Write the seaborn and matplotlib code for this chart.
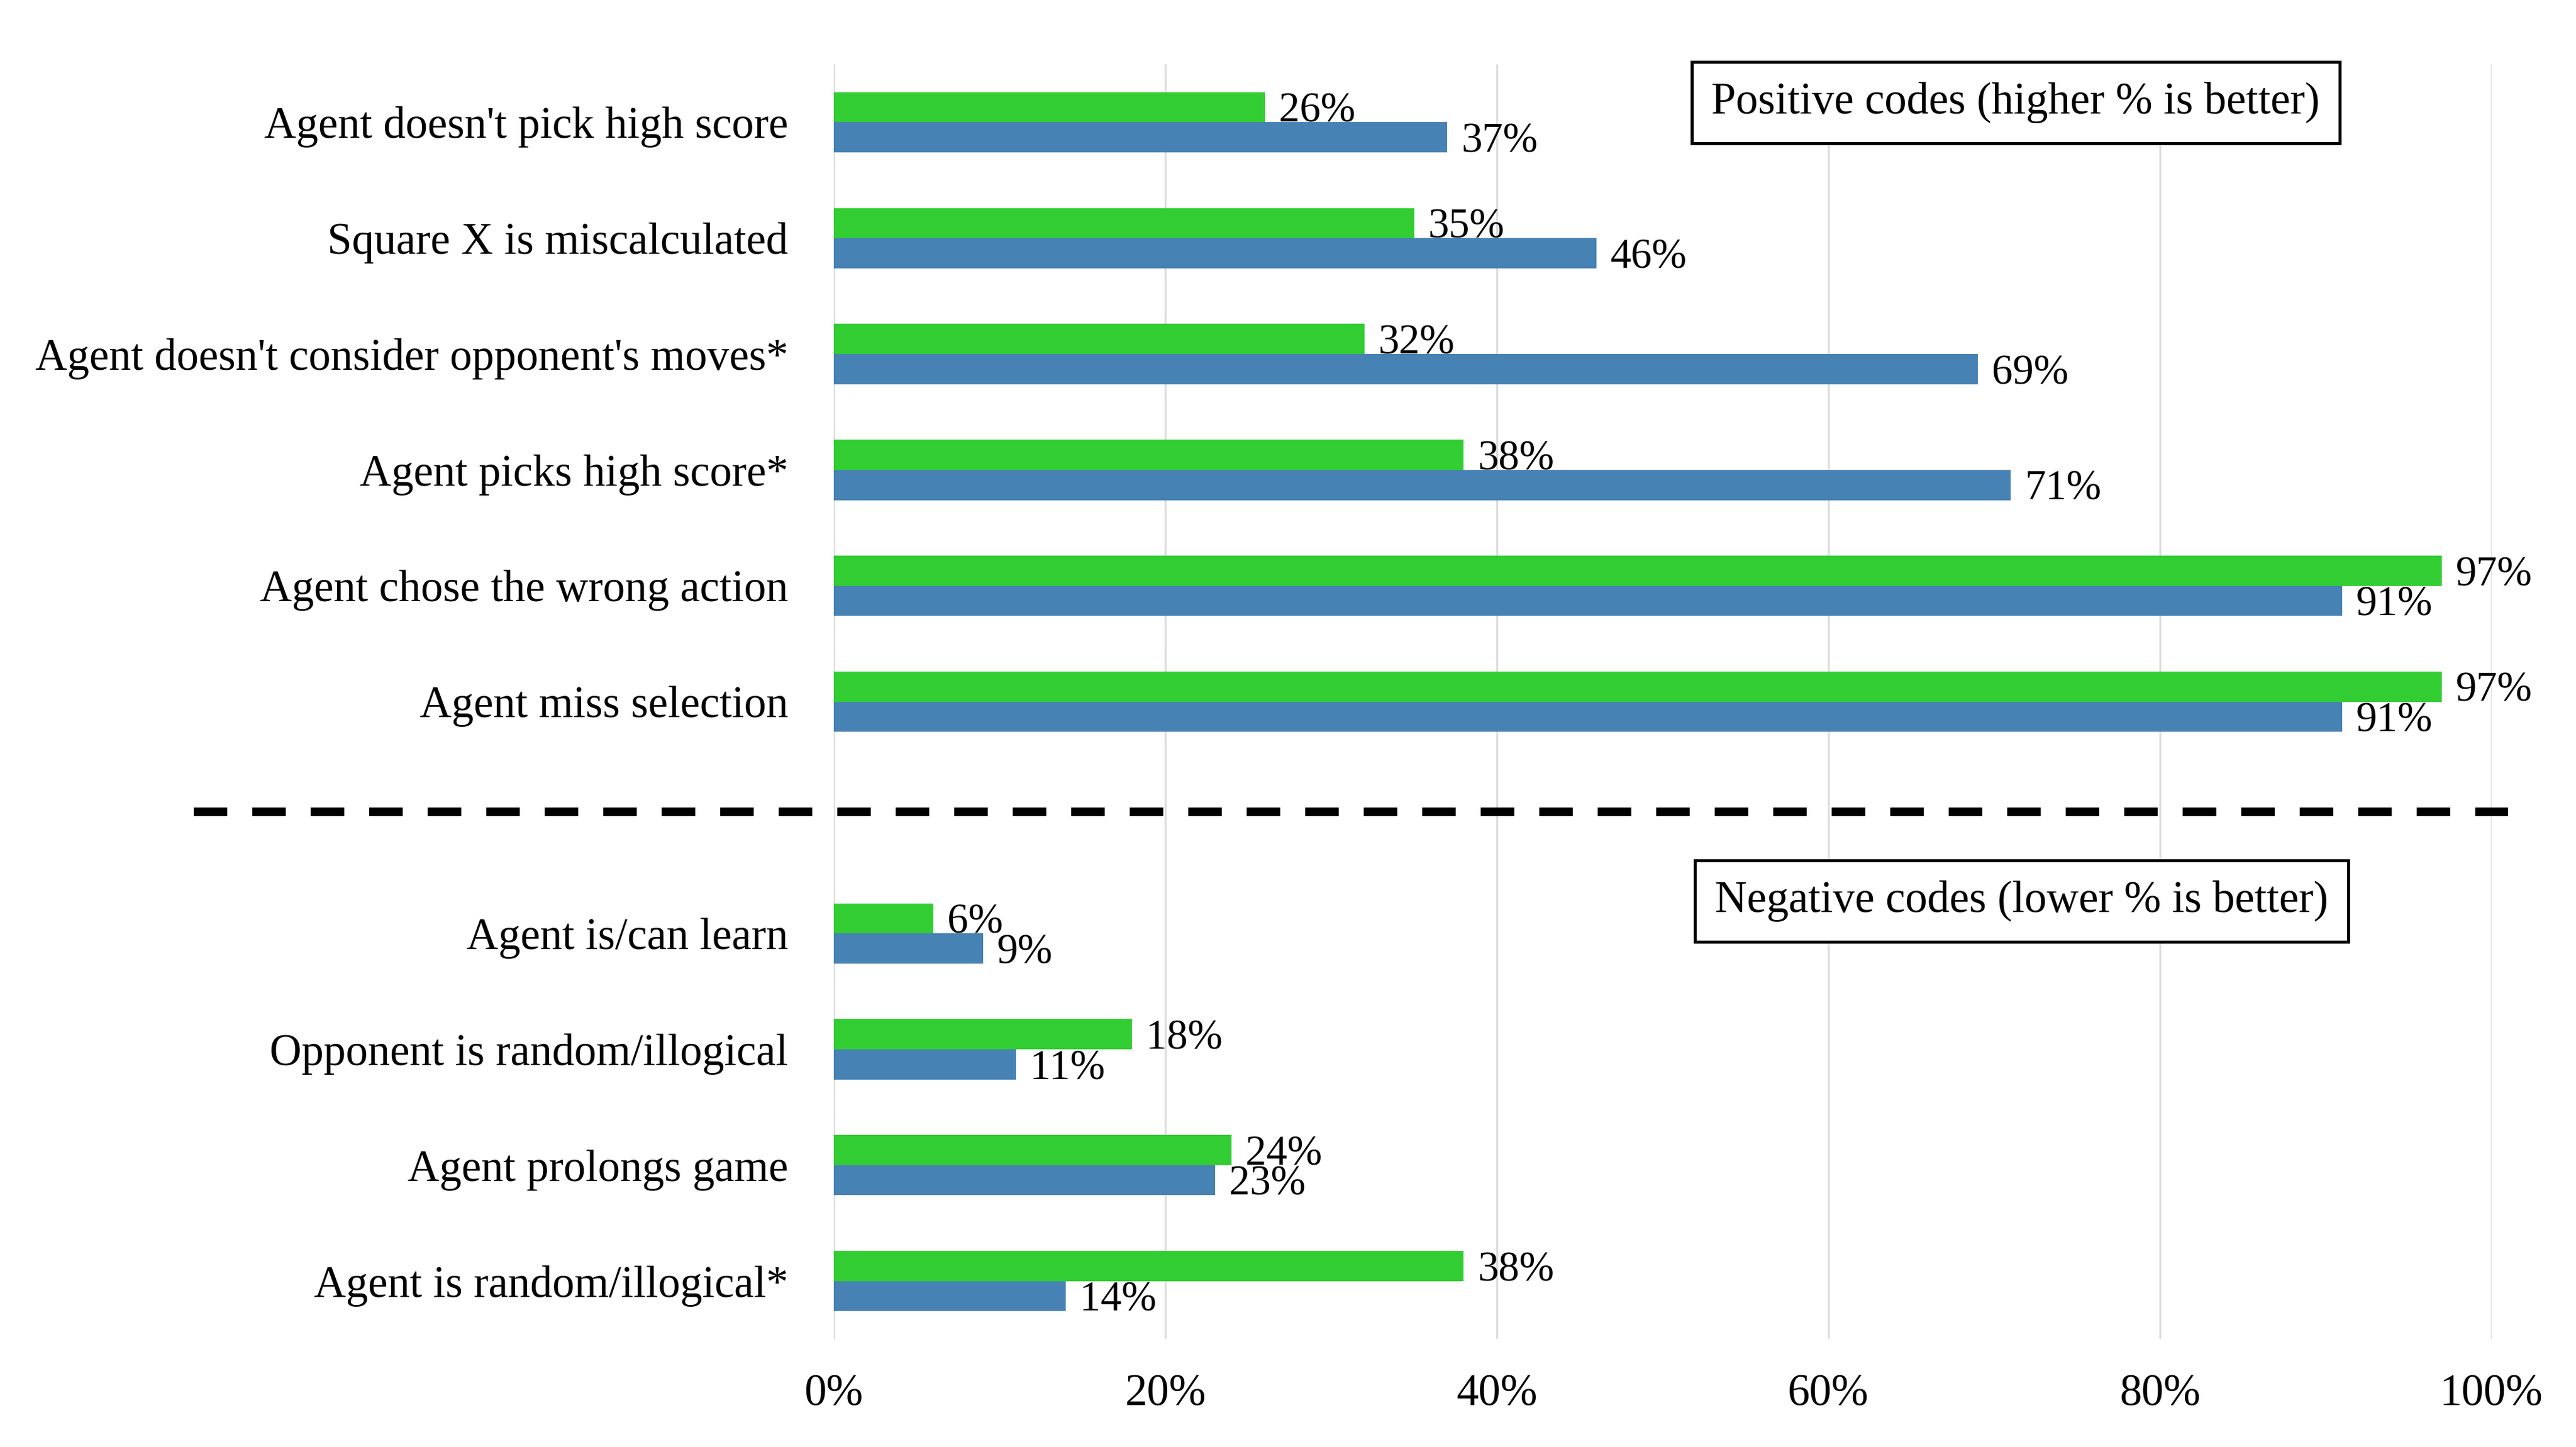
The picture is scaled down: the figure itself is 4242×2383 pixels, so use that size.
import pandas as pd
import seaborn as sns
import matplotlib.pyplot as plt

# Codes shown on the y axis, top to bottom (" " is the empty slot for the divider)
positive_codes = [
    "Agent doesn't pick high score",
    "Square X is miscalculated",
    "Agent doesn't consider opponent's moves*",
    "Agent picks high score*",
    "Agent chose the wrong action",
    "Agent miss selection",
]
negative_codes = [
    "Agent is/can learn",
    "Opponent is random/illogical",
    "Agent prolongs game",
    "Agent is random/illogical*",
]
gap_label = " "

# Share of participants per code (fractions)
green_pct = [0.26, 0.35, 0.32, 0.38, 0.97, 0.97, 0.06, 0.18, 0.24, 0.38]
blue_pct = [0.37, 0.46, 0.69, 0.71, 0.91, 0.91, 0.09, 0.11, 0.23, 0.14]

series_names = ["Group A", "Group B"]
x_ticks = [0, 0.2, 0.4, 0.6, 0.8, 1.0]
x_tick_labels = ["0%", "20%", "40%", "60%", "80%", "100%"]

codes = positive_codes + negative_codes
order = positive_codes + [gap_label] + negative_codes

df = pd.DataFrame({
    "code": codes * 2,
    "pct": green_pct + blue_pct,
    "group": [series_names[0]] * len(codes) + [series_names[1]] * len(codes),
})

sns.set_style("white")
plt.rcParams["font.family"] = ["Liberation Serif", "DejaVu Serif"]
plt.rcParams["text.color"] = "black"
plt.rcParams["xtick.color"] = "black"
plt.rcParams["ytick.color"] = "black"

fig = plt.figure(figsize=(4242 / 300, 2383 / 300), dpi=300)
ax = fig.add_axes([0.3237, 0.0747, 0.6435, 0.8808])

sns.barplot(
    data=df, y="code", x="pct", hue="group", order=order,
    hue_order=series_names, palette=["#32CD32", "#4682B4"],
    orient="h", width=0.52, errorbar=None, saturation=1,
    legend=False, linewidth=0, ax=ax,
)

# value labels next to every bar
for cont in ax.containers:
    labels = ax.bar_label(cont, fmt=lambda v: f"{v:.0%}", padding=5.5,
                          fontsize=16.5)
    for t in labels:
        t.set_va("center_baseline")

ax.set_xlim(0, 1.0)
ax.set_ylim(10.5, -0.5)
ax.set_xticks(x_ticks)
ax.set_xticklabels(x_tick_labels)
ax.set_xlabel("")
ax.set_ylabel("")
ax.tick_params(axis="x", length=0, pad=14, labelsize=17.5)
ax.tick_params(axis="y", length=0, pad=18, labelsize=17.5)
ax.xaxis.grid(True, color="#dcdcdc", linewidth=0.8)
ax.set_axisbelow(True)
for s in ax.spines.values():
    s.set_visible(False)

# divider between positive and negative codes
ax.plot([-0.386, 1.01], [5.95, 5.95], color="black", linewidth=3.4,
        dashes=(3.9, 2.9), clip_on=False, solid_capstyle="butt")

box = dict(boxstyle="square,pad=0.45", fc="white", ec="black", lw=1.2)
ax.text(0.713, -0.17, "Positive codes (higher % is better)", fontsize=17.5,
        ha="center", va="center", bbox=box, zorder=5)
ax.text(0.7165, 6.72, "Negative codes (lower % is better)", fontsize=17.5,
        ha="center", va="center", bbox=box, zorder=5)

fig.savefig("out.png", dpi=300)
